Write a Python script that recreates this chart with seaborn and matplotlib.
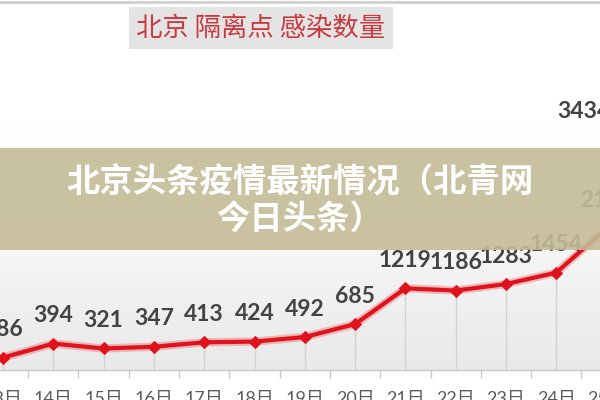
import matplotlib
matplotlib.use("Agg")
import matplotlib.pyplot as plt
import seaborn as sns
import numpy as np
import pandas as pd
from matplotlib.patches import Rectangle
from matplotlib.lines import Line2D
from matplotlib.colors import LinearSegmentedColormap

# ---- data ----
days = [13, 14, 15, 16, 17, 18, 19, 20, 21, 22, 23, 24, 25, 26]
day_labels = [f"{d}日" for d in days]
values = [186, 394, 321, 347, 413, 424, 492, 685, 1219, 1186, 1283, 1454, 2115, 3434]
title = "北京 隔离点 感染数量"
banner_lines = ["北京头条疫情最新情况（北青网", "今日头条）"]

sns.set_theme(style="white")
plt.rcParams['font.family'] = ['Lato', 'Noto Sans CJK SC', 'DejaVu Sans']

fig = plt.figure(figsize=(6, 4), dpi=100)
fig.patch.set_facecolor("white")
ax = fig.add_axes([0, 0.075, 1, 0.925])

df = pd.DataFrame({"pos": np.arange(len(days)), "value": values, "day": day_labels})

step = 50.3
xlim = (-3 / step, 597 / step)
ylim = (0, 370 / 0.067)

# plot-area gradient
cmap = LinearSegmentedColormap.from_list("g", ["#e9e9e9", "#f6f6f6", "#ffffff", "#ffffff"])
grad = np.linspace(0, 1, 256)[:, None]
ax.imshow(grad, extent=(xlim[0], xlim[1], ylim[0], ylim[1]), origin="lower",
          aspect="auto", cmap=cmap, zorder=0)

# drop lines
ax.vlines(df["pos"], 0, df["value"], color="#d2d2d2", lw=1, zorder=1)

# line with glow
sns.lineplot(data=df, x="pos", y="value", ax=ax, color="#e8545a", lw=6, alpha=0.35,
             zorder=2, legend=False)
sns.lineplot(data=df, x="pos", y="value", ax=ax, color="#e0121c", lw=3, marker="D",
             markersize=6, markeredgecolor="#e0121c", zorder=3, legend=False)

# value labels
for i, v in enumerate(values):
    dx = -73 if i == len(values) - 1 else 0
    ax.annotate(str(v), (df["pos"][i], v), xytext=(dx, 28), textcoords="offset pixels",
                ha="center", va="center", fontsize=16.5, fontweight="bold",
                color="#434343", annotation_clip=False, family="Lato", zorder=4)

# axes styling
for s in ["top", "left", "right"]:
    ax.spines[s].set_visible(False)
ax.spines["bottom"].set_color("#c8c8c8")
ax.spines["bottom"].set_linewidth(1)
ax.set_yticks([])
ax.set_xticks(df["pos"])
ax.set_xticklabels(day_labels, fontsize=13, color="#5a5a5a",
                   family=["Lato", "Noto Sans CJK SC"])
ax.set_xticks(df["pos"][:-1] + 0.5, minor=True)
ax.tick_params(axis="x", which="major", length=0, pad=15)
ax.tick_params(axis="x", which="minor", bottom=True, length=6, width=1, color="#c8c8c8")
ax.set_xlabel("")
ax.set_ylabel("")

ax.set_xlim(*xlim)
ax.set_ylim(*ylim)

# category labels / tick that fall just past the visible edge (partly visible)
for p, lab in zip(df["pos"], day_labels):
    if xlim[1] < p < xlim[1] + 1:
        ax.annotate(lab, (p, 0), xytext=(0, -15), textcoords="offset points",
                    ha="center", va="top", fontsize=13, color="#5a5a5a",
                    family=["Lato", "Noto Sans CJK SC"], annotation_clip=False)
        ax.plot([p - 0.5, p - 0.5], [0, 0], marker=[(0, 0), (0, -1)], markersize=6,
                color="#c8c8c8", clip_on=False) if False else None

fig.text(261 / 600, 1 - 28 / 400, title, ha="center", va="center", fontsize=19,
         color="#c83a40", family=["Noto Sans CJK SC"],
         bbox=dict(boxstyle="square,pad=0.28", fc="#e4e4e4", ec="none"), zorder=6)

# top border
fig.add_artist(Line2D([0, 1], [0.996, 0.996], color="#cfcfcf", lw=2, zorder=6))

# banner overlay
fig.add_artist(Rectangle((0, 1 - 250 / 400), 1, 102 / 400, transform=fig.transFigure,
                         facecolor="#c4bc97", alpha=0.9, edgecolor="none", zorder=5))
fig.text(0.5, 1 - 182 / 400, banner_lines[0], ha="center", va="center", fontsize=24,
         fontweight="bold", color="white", family=["Noto Sans CJK SC"], zorder=6)
fig.text(0.5, 1 - 219 / 400, banner_lines[1], ha="center", va="center", fontsize=24,
         fontweight="bold", color="white", family=["Noto Sans CJK SC"], zorder=6)

fig.savefig("out.png", dpi=100)
